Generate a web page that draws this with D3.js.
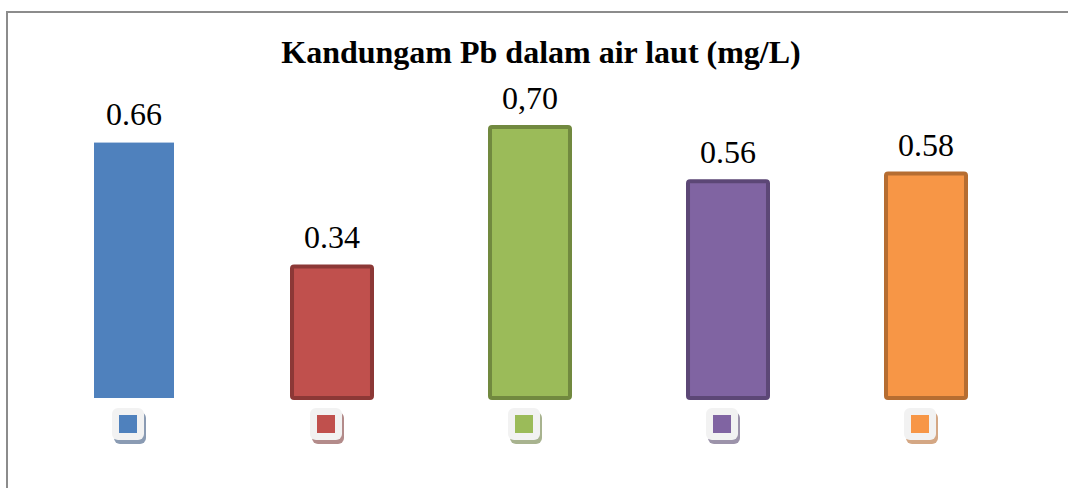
<!DOCTYPE html>
<html><head><meta charset="utf-8">
<script src="https://cdn.jsdelivr.net/npm/d3@7"></script>
<style>body{margin:0;background:#fff}svg{display:block}</style>
</head><body>
<script>
const categories = ["A","B","C","D","E"];
const values = [0.66, 0.34, 0.70, 0.56, 0.58];
const labels = ["0.66", "0.34", "0,70", "0.56", "0.58"];
const fills = ["#4f81bd", "#c0504d", "#9bbb59", "#8064a2", "#f79646"];
const strokes = [null, "#8c3836", "#71893f", "#5c4776", "#b66d31"];
const shadows = ["#8a9bb3", "#b38b8a", "#a8b38f", "#9c93aa", "#d4a784"];
const title = "Kandungam Pb dalam air laut (mg/L)";

const W = 1068, H = 488;
const FONT = "'Liberation Serif', 'Times New Roman', serif";
const svg = d3.select("body").append("svg").attr("width", W).attr("height", H);

svg.append("rect").attr("x", 7).attr("y", 12).attr("width", W + 10).attr("height", H + 10)
  .attr("fill", "#fff").attr("stroke", "#8c8c8c").attr("stroke-width", 2);

svg.append("text").attr("x", 541).attr("y", 63).attr("text-anchor", "middle")
  .attr("font-family", FONT).attr("font-weight", "bold").attr("font-size", 32)
  .text(title);

const x = d3.scaleBand().domain(categories).range([35, 1025]).paddingInner(0.596).paddingOuter(0.298);
const y = d3.scaleLinear().domain([0, 0.8]).range([398, 398 - 0.8 * 387]);

const g = svg.append("g");
categories.forEach((c, i) => {
  const bx = x(c), bw = x.bandwidth();
  const r = g.append("rect").attr("x", bx).attr("y", y(values[i])).attr("width", bw)
    .attr("height", y(0) - y(values[i])).attr("fill", fills[i]);
  if (strokes[i]) r.attr("stroke", strokes[i]).attr("stroke-width", 4).attr("rx", 2);
  g.append("text").attr("x", bx + bw / 2).attr("y", y(values[i]) - 18).attr("text-anchor", "middle")
    .attr("font-family", FONT).attr("font-size", 32).attr("fill", "#000").text(labels[i]);
  const cx = bx + bw / 2 - 6, cy = 424;
  g.append("rect").attr("x", cx - 14).attr("y", cy - 12).attr("width", 32).attr("height", 32)
    .attr("rx", 6).attr("fill", shadows[i]);
  g.append("rect").attr("x", cx - 16).attr("y", cy - 16).attr("width", 32).attr("height", 32)
    .attr("rx", 6).attr("fill", "#f2f2f2");
  g.append("rect").attr("x", cx - 9).attr("y", cy - 9).attr("width", 18).attr("height", 18)
    .attr("fill", fills[i]);
});
</script>
</body></html>
